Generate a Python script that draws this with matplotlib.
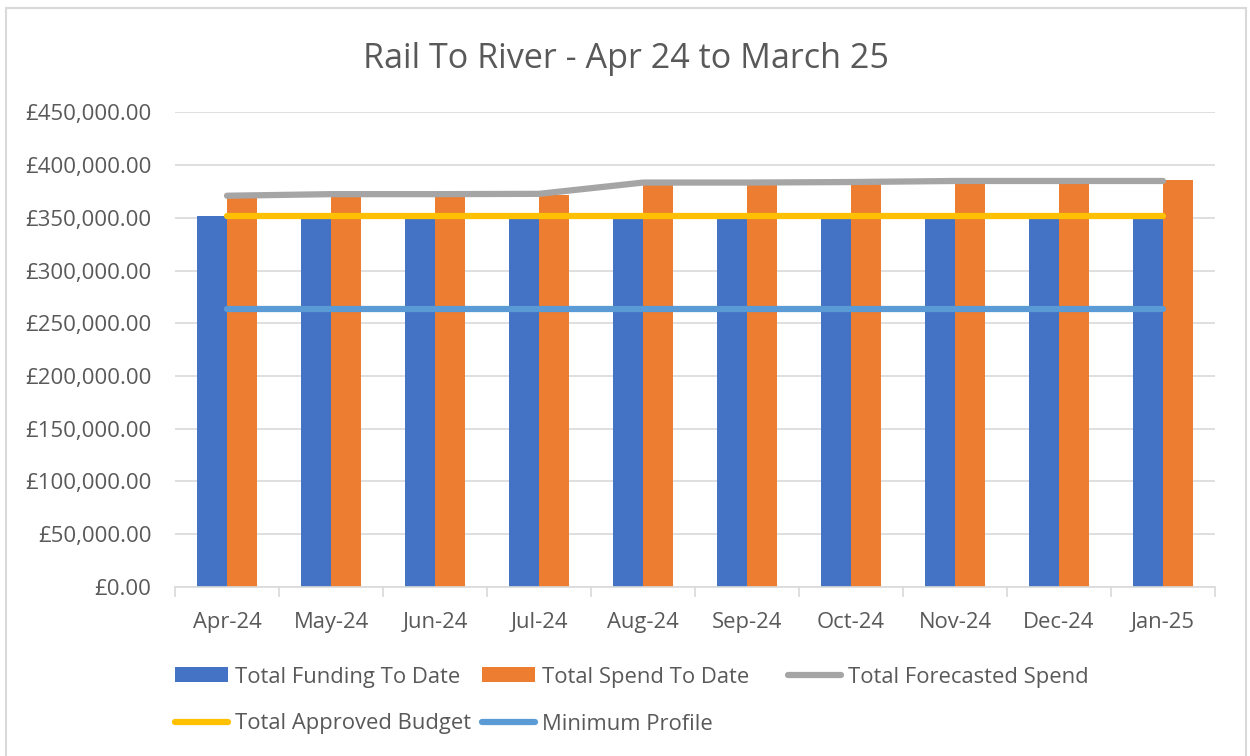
import matplotlib
matplotlib.use("Agg")
import matplotlib.pyplot as plt
import numpy as np
from matplotlib.patches import Patch, Rectangle
from matplotlib.lines import Line2D
from matplotlib.ticker import FuncFormatter, MultipleLocator

months = ["Apr-24", "May-24", "Jun-24", "Jul-24", "Aug-24",
          "Sep-24", "Oct-24", "Nov-24", "Dec-24", "Jan-25"]
funding = [351500, 350500, 350500, 350500, 350500,
           350500, 350500, 350500, 350500, 350500]
spend = [368500, 371000, 371000, 372000, 382000,
         382500, 383000, 384000, 384000, 385800]
forecast = [371000, 372500, 372500, 372800, 383500,
            383500, 384000, 385000, 385000, 385000]
budget = [352000] * 10
minimum = [263500] * 10

plt.rcParams['font.family'] = ['Open Sans', 'DejaVu Sans']
TXT = '#595959'
W, H = 1250, 756

fig = plt.figure(figsize=(12.5, 7.56), dpi=100)
ax = fig.add_axes([175/W, 1 - 586.6/H, 1040/W, (586.6 - 112.5)/H])

x = np.arange(len(months))
w = 0.29
ax.bar(x - w/2, funding, w, color='#4472c4', zorder=2)
ax.bar(x + w/2, spend, w, color='#ed7d31', zorder=2)
ax.plot(x, forecast, color='#a5a5a5', lw=4.5, solid_capstyle='round', zorder=3)
ax.plot(x, budget, color='#ffc000', lw=4.5, solid_capstyle='round', zorder=3)
ax.plot(x, minimum, color='#5b9bd5', lw=4.5, solid_capstyle='round', zorder=3)

ax.set_xlim(-0.5, len(months) - 0.5)
ax.set_ylim(0, 450000)
ax.yaxis.set_major_locator(MultipleLocator(50000))
ax.yaxis.set_major_formatter(FuncFormatter(lambda v, p: '£{:,.2f}'.format(v)))
ax.grid(axis='y', color='#d9d9d9', lw=1.2, zorder=0)

for s in ['top', 'right', 'left']:
    ax.spines[s].set_visible(False)
ax.spines['bottom'].set_color('#d9d9d9')
ax.spines['bottom'].set_linewidth(1.2)

ax.set_xticks(x)
ax.set_xticklabels(months)
ax.set_xticks(np.arange(len(months) + 1) - 0.5, minor=True)
ax.tick_params(axis='x', which='major', length=0, pad=18, labelsize=15.8, labelcolor=TXT)
ax.tick_params(axis='x', which='minor', length=7, width=1.2, color='#d9d9d9')
ax.tick_params(axis='y', length=0, pad=17, labelsize=16, labelcolor=TXT)

fig.text(626/W, 1 - 59/H, 'Rail To River - Apr 24 to March 25', ha='center', va='center',
         fontsize=24.6, color=TXT)

# legend entries laid out like Excel: equal-width columns, two rows
entries = [
    (Patch(facecolor='#4472c4'), 'Total Funding To Date', 175, 677),
    (Patch(facecolor='#ed7d31'), 'Total Spend To Date', 482, 677),
    (Line2D([], [], color='#a5a5a5', lw=4.5, solid_capstyle='round'), 'Total Forecasted Spend', 788, 677),
    (Line2D([], [], color='#ffc000', lw=4.5, solid_capstyle='round'), 'Total Approved Budget', 175, 724),
    (Line2D([], [], color='#5b9bd5', lw=4.5, solid_capstyle='round'), 'Minimum Profile', 482, 724),
]
for h, lab, lx, ly in entries:
    leg = fig.legend([h], [lab], loc='center left', bbox_to_anchor=(lx/W, 1 - ly/H),
                     frameon=False, fontsize=15.8, handlelength=2.42, handleheight=0.68,
                     handletextpad=0.3, borderpad=0, borderaxespad=0)
    for t in leg.get_texts():
        t.set_color(TXT)

fig.add_artist(Rectangle((6/W, -0.02), 1240/W, 1.02 - 8/H,
                         transform=fig.transFigure, fill=False,
                         edgecolor='#d9d9d9', lw=1.5))

fig.savefig('out.png', dpi=100, facecolor='white')
